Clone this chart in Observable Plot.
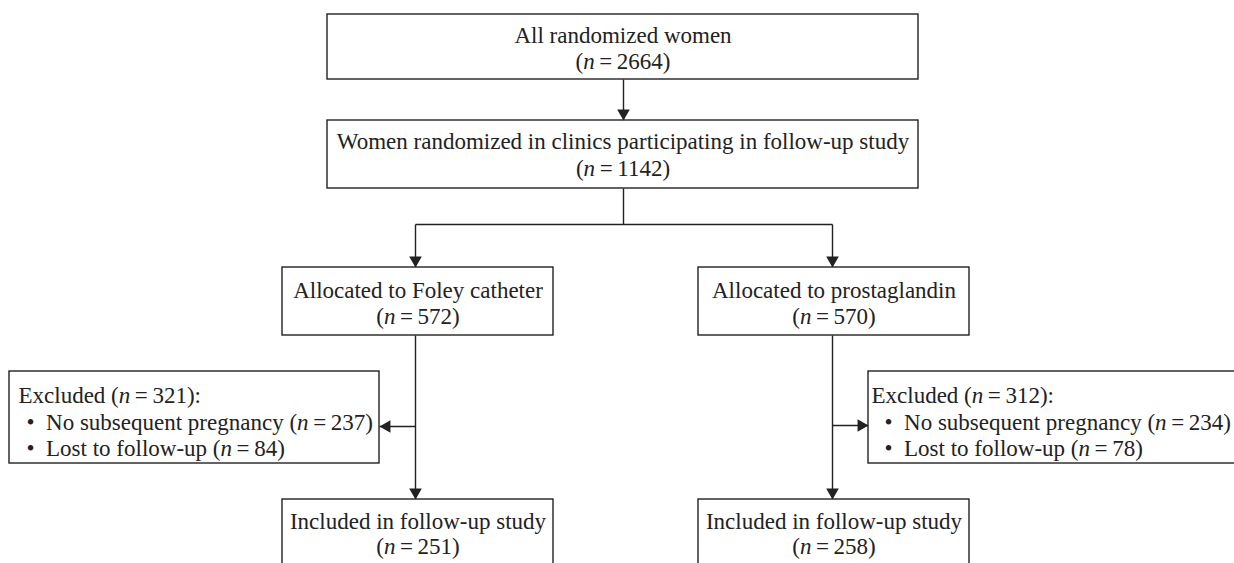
<!DOCTYPE html>
<html>
<head>
<meta charset="utf-8">
<script src="https://cdn.jsdelivr.net/npm/d3@7"></script>
<script src="https://cdn.jsdelivr.net/npm/@observablehq/plot@0.6"></script>
<style>
  html, body { margin: 0; padding: 0; background: #fff; }
  #chart svg { display: block; }
</style>
</head>
<body>
<div id="chart"></div>
<script>
// ---- Data ----
const stageLabels = [
  "All randomized women",
  "Women randomized in clinics participating in follow-up study",
  "Allocated to Foley catheter",
  "Allocated to prostaglandin",
  "Included in follow-up study",
  "Included in follow-up study"
];
const stageN = [2664, 1142, 572, 570, 251, 258];
const excludedTotal = [321, 312];
const excludedReasons = ["No subsequent pregnancy", "Lost to follow-up"];
const excludedFoley = [237, 84];
const excludedProstaglandin = [234, 78];

// ---- Layout (positions only) ----
const stageBoxes = [
  {x1: 327, x2: 918, y1: 14,  y2: 79},
  {x1: 327, x2: 918, y1: 120, y2: 188},
  {x1: 282, x2: 553, y1: 267, y2: 335},
  {x1: 698, x2: 969, y1: 267, y2: 335},
  {x1: 282, x2: 553, y1: 499, y2: 580},
  {x1: 698, x2: 969, y1: 499, y2: 580}
];
const lineOffsets = [[28, 54], [28, 55], [30, 56], [30, 56], [29, 54], [29, 54]];
const exclBoxes = [
  {x1: 9,   x2: 379,  y1: 371, y2: 463, tx: 18,  bx: 26},
  {x1: 868, x2: 1250, y1: 371, y2: 463, tx: 871, bx: 884}
];
const exclBaselines = [402, 429, 455];

const segments = [
  {x1: 623, y1: 79,  x2: 623, y2: 120, head: "down"},
  {x1: 623, y1: 188, x2: 623, y2: 224, head: null},
  {x1: 415, y1: 224, x2: 832, y2: 224, head: null},
  {x1: 415, y1: 224, x2: 415, y2: 267, head: "down"},
  {x1: 832, y1: 224, x2: 832, y2: 267, head: "down"},
  {x1: 415, y1: 335, x2: 415, y2: 499, head: "down"},
  {x1: 832, y1: 335, x2: 832, y2: 499, head: "down"},
  {x1: 415, y1: 426, x2: 379, y2: 426, head: "left"},
  {x1: 832, y1: 425, x2: 868, y2: 425, head: "right"}
];

// ---- Derived tables ----
const nLabel = n => `(n=${n})`;
const stageText = [];
stageBoxes.forEach((b, i) => {
  const cx = (b.x1 + b.x2) / 2;
  stageText.push({x: cx, y: b.y1 + lineOffsets[i][0], text: stageLabels[i]});
  stageText.push({x: cx, y: b.y1 + lineOffsets[i][1], text: nLabel(stageN[i])});
});
const exclText = [];
[excludedFoley, excludedProstaglandin].forEach((counts, k) => {
  const b = exclBoxes[k];
  exclText.push({x: b.tx, y: exclBaselines[0], text: `Excluded ${nLabel(excludedTotal[k])}:`});
  excludedReasons.forEach((r, j) => {
    exclText.push({x: b.bx, y: exclBaselines[j + 1], text: `\u2022\u2002${r} ${nLabel(counts[j])}`});
  });
});
const TIP = 7.3; // distance from triangle centroid to tip
const heads = segments.filter(s => s.head).map(s => {
  const rot = {down: 180, left: -90, right: 90, up: 0}[s.head];
  const dx = s.head === "left" ? TIP : s.head === "right" ? -TIP : 0;
  const dy = s.head === "down" ? -TIP : s.head === "up" ? TIP : 0;
  return {x: s.x2 + dx, y: s.y2 + dy, rotate: rot};
});

const ink = "#222";
const font = "Liberation Serif, Times New Roman, serif";
const fs = 23;

const chart = Plot.plot({
  width: 1234,
  height: 563,
  margin: 0,
  style: {fontFamily: font, background: "#fff", color: ink},
  x: {type: "linear", domain: [0, 1234], range: [0, 1234], axis: null},
  y: {type: "linear", domain: [0, 563], range: [0, 563], axis: null},
  marks: [
    Plot.link(segments, {x1: "x1", y1: "y1", x2: "x2", y2: "y2", stroke: ink, strokeWidth: 1.4}),
    Plot.rect(stageBoxes, {x1: "x1", x2: "x2", y1: "y1", y2: "y2", fill: "white", stroke: ink, strokeWidth: 1.4}),
    Plot.rect(exclBoxes, {x1: "x1", x2: "x2", y1: "y1", y2: "y2", fill: "white", stroke: ink, strokeWidth: 1.4}),
    Plot.dot(heads, {x: "x", y: "y", rotate: "rotate", symbol: "triangle", r: 4.7, fill: ink, stroke: "none"}),
    Plot.text(stageText, {x: "x", y: "y", text: "text", textAnchor: "middle", lineAnchor: "bottom", fontSize: fs, fill: ink}),
    Plot.text(exclText, {x: "x", y: "y", text: "text", textAnchor: "start", lineAnchor: "bottom", fontSize: fs, fill: ink})
  ]
});

// Italicize the "n" in "(n=...)"
const NS = "http://www.w3.org/2000/svg";
chart.querySelectorAll("text").forEach(t => {
  const s = t.textContent;
  const m = s.match(/^(.*)\(n=(\d+)\)(.*)$/);
  if (!m) return;
  while (t.firstChild) t.removeChild(t.firstChild);
  const add = (str, italic) => {
    const ts = document.createElementNS(NS, "tspan");
    ts.textContent = str;
    if (italic) ts.setAttribute("font-style", "italic");
    t.appendChild(ts);
  };
  add(m[1] + "(", false);
  add("n", true);
  add("\u2009=\u2009" + m[2] + ")" + m[3], false);
});

document.getElementById("chart").appendChild(chart);
</script>
</body>
</html>
